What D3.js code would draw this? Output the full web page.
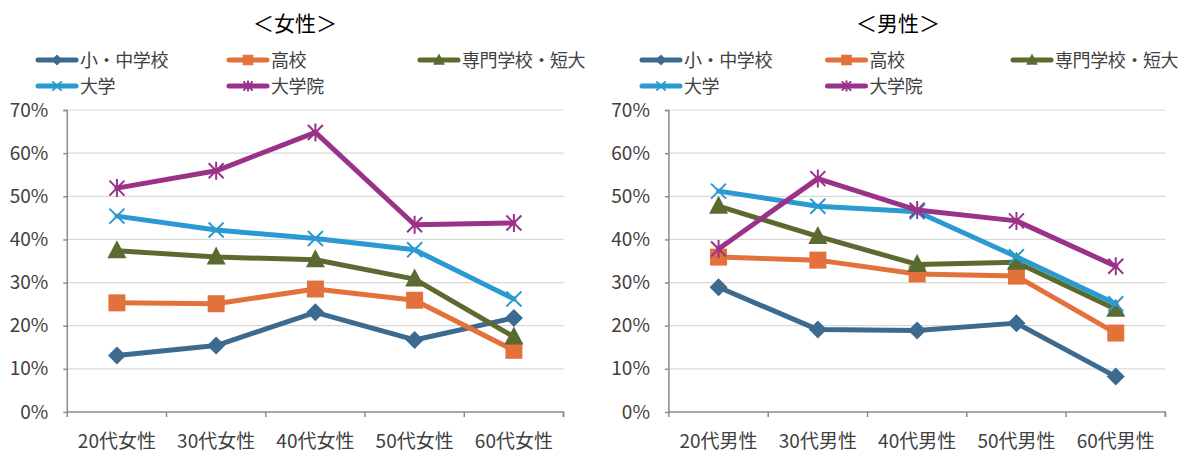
<!DOCTYPE html>
<html>
<head>
<meta charset="utf-8">
<script src="https://cdn.jsdelivr.net/npm/d3@7"></script>
<style>
	body { margin: 0; background: #fff; }
	text { font-family: "Noto Sans CJK JP", "Noto Sans", sans-serif; fill: #404040; }
	.title { fill: #000; }
	.legendText { letter-spacing: -0.4px; }
</style>
</head>
<body>
<svg id="chart" width="1181" height="452"></svg>
<script>
const seriesNames = ['小・中学校', '高校', '専門学校・短大', '大学', '大学院'];
const seriesColors = ['#3d6a8f', '#e3713b', '#5b6b30', '#2b9ad0', '#9a3289'];
const seriesMarkers = ['diamond', 'square', 'triangle', 'cross', 'star'];

const femaleAges = ['20代女性', '30代女性', '40代女性', '50代女性', '60代女性'];
const maleAges = ['20代男性', '30代男性', '40代男性', '50代男性', '60代男性'];
const yTicks = [0, 0.1, 0.2, 0.3, 0.4, 0.5, 0.6, 0.7];

// female
const femaleElementary = [0.131, 0.154, 0.231, 0.167, 0.218];
const femaleHighSchool = [0.253, 0.251, 0.285, 0.259, 0.143];
const femaleVocational = [0.374, 0.359, 0.353, 0.308, 0.174];
const femaleUniversity = [0.454, 0.422, 0.402, 0.376, 0.262];
const femaleGraduate = [0.519, 0.559, 0.648, 0.434, 0.438];

// male
const maleElementary = [0.289, 0.191, 0.189, 0.206, 0.082];
const maleHighSchool = [0.359, 0.352, 0.320, 0.315, 0.183];
const maleVocational = [0.477, 0.407, 0.342, 0.347, 0.238];
const maleUniversity = [0.512, 0.477, 0.464, 0.360, 0.251];
const maleGraduate = [0.378, 0.541, 0.468, 0.443, 0.338];

const svg = d3.select('#chart');

function markerPath(type) {
	switch (type) {
		case 'diamond': return 'M0,-9L9,0L0,9L-9,0Z';
		case 'square': return 'M-8.5,-8.5H8.5V8.5H-8.5Z';
		case 'triangle': return 'M0,-10.5L9.5,7.5H-9.5Z';
		case 'cross': return 'M-7.5,-7.5L7.5,7.5M-7.5,7.5L7.5,-7.5';
		case 'star': return 'M-7.5,-7.5L7.5,7.5M-7.5,7.5L7.5,-7.5M0,-9V9';
	}
}

function drawMarker(g, type, color, x, y, scale) {
	let open = type === 'cross' || type === 'star';
	g.append('path')
		.attr('d', markerPath(type))
		.attr('transform', 'translate(' + x + ',' + y + ') scale(' + scale + ')')
		.attr('fill', open ? 'none' : color)
		.attr('stroke', color)
		.attr('stroke-width', open ? 2 / scale : 0);
}

function drawPanel(p) {
	let g = svg.append('g');

	g.append('text')
		.attr('class', 'title')
		.attr('x', p.titleX)
		.attr('y', 31)
		.attr('text-anchor', 'middle')
		.style('font-size', '21px')
		.text(p.title);

	// legend
	seriesNames.forEach((name, i) => {
		let lx = p.legendX + (i % 3) * p.legendStep;
		let ly = i < 3 ? 60 : 86;
		g.append('line')
			.attr('x1', lx + 2).attr('x2', lx + 40)
			.attr('y1', ly).attr('y2', ly)
			.attr('stroke', seriesColors[i])
			.attr('stroke-width', 5)
			.attr('stroke-linecap', 'round');
		drawMarker(g, seriesMarkers[i], seriesColors[i], lx + 21, ly, 0.62);
		g.append('text')
			.attr('class', 'legendText')
			.attr('x', lx + 44)
			.attr('y', ly + 6.5)
			.style('font-size', '18px')
			.text(name);
	});

	let x = d3.scaleBand().domain(p.ages).range([p.x0, p.x1]);
	let y = d3.scaleLinear().domain([0, 0.7]).range([412, 110]);

	g.append('g')
		.selectAll('line')
		.data(yTicks.slice(1))
		.enter().append('line')
		.attr('x1', p.x0).attr('x2', p.x1)
		.attr('y1', d => y(d)).attr('y2', d => y(d))
		.attr('stroke', '#d9d9d9')
		.attr('stroke-width', 1.2);

	let yAxis = g.append('g')
		.attr('transform', 'translate(' + p.x0 + ',0)')
		.call(d3.axisLeft(y).tickValues(yTicks).tickFormat(d3.format('.0%')).tickSize(4).tickPadding(15));
	let xAxis = g.append('g')
		.attr('transform', 'translate(0,412)')
		.call(d3.axisBottom(x).tickSize(0).tickPadding(23));
	xAxis.selectAll('.tick')
		.append('line')
		.attr('x1', x.bandwidth() / 2).attr('x2', x.bandwidth() / 2)
		.attr('y1', 0).attr('y2', 5)
		.attr('stroke', '#8c8c8c')
		.attr('stroke-width', 1.5);
	g.append('line')
		.attr('x1', p.x0).attr('x2', p.x0)
		.attr('y1', 412).attr('y2', 417)
		.attr('stroke', '#8c8c8c')
		.attr('stroke-width', 1.5);

	[yAxis, xAxis].forEach(a => {
		a.select('.domain').attr('stroke', '#8c8c8c').attr('stroke-width', 1.5);
		a.selectAll('.tick line').attr('stroke', '#8c8c8c').attr('stroke-width', 1.5);
		a.selectAll('text').attr('fill', '#404040').style('font-size', '19px')
			.style('font-family', '"Noto Sans CJK JP", "Noto Sans", sans-serif');
	});
	yAxis.select('.domain').attr('d', 'M-4,110.5H0V412');
	xAxis.select('.domain').attr('d', 'M' + p.x0 + ',0H' + p.x1 + 'V5');

	let line = d3.line()
		.x((d, i) => x(p.ages[i]) + x.bandwidth() / 2)
		.y(d => y(d));

	p.values.forEach((vals, s) => {
		let sg = g.append('g');
		sg.append('path')
			.attr('d', line(vals))
			.attr('fill', 'none')
			.attr('stroke', seriesColors[s])
			.attr('stroke-width', 5)
			.attr('stroke-linejoin', 'round')
			.attr('stroke-linecap', 'round');
		vals.forEach((v, i) => {
			drawMarker(sg, seriesMarkers[s], seriesColors[s], x(p.ages[i]) + x.bandwidth() / 2, y(v), 1);
		});
	});
}

drawPanel({
	title: '＜女性＞', titleX: 295,
	legendX: 36, legendStep: 191,
	x0: 67.3, x1: 563.5,
	ages: femaleAges,
	values: [femaleElementary, femaleHighSchool, femaleVocational, femaleUniversity, femaleGraduate]
});

drawPanel({
	title: '＜男性＞', titleX: 898,
	legendX: 640, legendStep: 185.5,
	x0: 668.9, x1: 1165.4,
	ages: maleAges,
	values: [maleElementary, maleHighSchool, maleVocational, maleUniversity, maleGraduate]
});
</script>
</body>
</html>
